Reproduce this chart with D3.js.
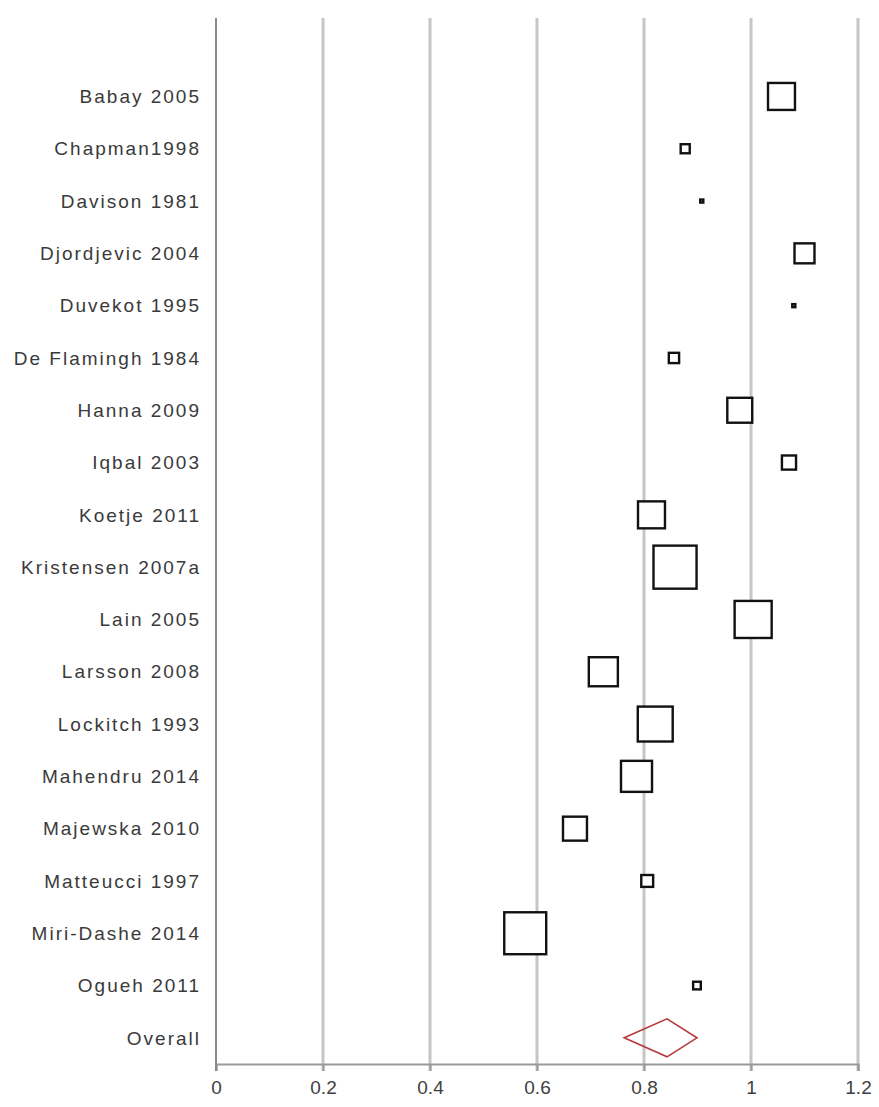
<!DOCTYPE html>
<html>
<head>
<meta charset="utf-8">
<script src="https://cdn.jsdelivr.net/npm/d3@7"></script>
<style>
  html, body { margin: 0; padding: 0; background: #fff; }
  svg { display: block; }
</style>
</head>
<body>
<svg id="chart" width="879" height="1107"></svg>
<script>
// Study names, point estimates and relative weights (%)
const studies = [
  "Babay 2005", "Chapman1998", "Davison 1981", "Djordjevic 2004", "Duvekot 1995",
  "De Flamingh 1984", "Hanna 2009", "Iqbal 2003", "Koetje 2011", "Kristensen 2007a",
  "Lain 2005", "Larsson 2008", "Lockitch 1993", "Mahendru 2014", "Majewska 2010",
  "Matteucci 1997", "Miri-Dashe 2014", "Ogueh 2011"
];
const estimates = [
  1.057, 0.877, 0.908, 1.100, 1.080,
  0.856, 0.979, 1.071, 0.814, 0.858,
  1.004, 0.724, 0.821, 0.786, 0.671,
  0.806, 0.578, 0.899
];
const weights = [
  6.2, 0.7, 0.08, 3.4, 0.08,
  0.9, 5.3, 1.7, 6.2, 15.8,
  11.7, 7.2, 10.4, 8.2, 4.9,
  1.2, 15.0, 0.5
];
// Pooled estimate with its confidence limits
const overallLabel = "Overall";
const overall = { est: 0.843, lo: 0.763, hi: 0.899 };
const xTicks = [0, 0.2, 0.4, 0.6, 0.8, 1, 1.2];

const svg = d3.select("#chart");
const plot = { left: 216, right: 858, top: 18, bottom: 1064 };

const x = d3.scaleLinear().domain([0, 1.2]).range([plot.left, plot.right]);
// One blank row above the first study
const rows = ["", ...studies, overallLabel];
const y = d3.scaleBand().domain(rows).range([plot.top, plot.bottom]);
const yc = d => y(d) + y.bandwidth() / 2;
const side = d3.scaleSqrt().domain([0, 100]).range([0, 108.3]);

const font = "'Liberation Sans', Arial, sans-serif";

// Vertical gridlines
svg.append("g")
  .selectAll("line")
  .data(xTicks.filter(t => t > 0))
  .join("line")
  .attr("x1", d => x(d)).attr("x2", d => x(d))
  .attr("y1", plot.top).attr("y2", plot.bottom + 7)
  .attr("stroke", "#c6c6c6")
  .attr("stroke-width", 3);

// X axis
const xAxis = d3.axisBottom(x)
  .tickValues(xTicks)
  .tickFormat(d => String(d))
  .tickSize(7)
  .tickPadding(10);
const gx = svg.append("g")
  .attr("transform", `translate(0,${plot.bottom})`)
  .call(xAxis);
gx.select(".domain").attr("stroke", "#9a9a9a").attr("stroke-width", 2);
gx.selectAll(".tick line").attr("stroke", "#9a9a9a").attr("stroke-width", 2);
gx.selectAll(".tick text")
  .attr("font-family", font)
  .attr("font-size", 19)
  .attr("fill", "#404040");

// Y axis line
svg.append("line")
  .attr("x1", plot.left).attr("x2", plot.left)
  .attr("y1", plot.top).attr("y2", plot.bottom + 7)
  .attr("stroke", "#8a8a8a")
  .attr("stroke-width", 2);

// Row labels
svg.append("g")
  .selectAll("text")
  .data([...studies, overallLabel])
  .join("text")
  .attr("x", plot.left - 15)
  .attr("y", d => yc(d))
  .attr("dy", "0.35em")
  .attr("text-anchor", "end")
  .attr("font-family", font)
  .attr("font-size", 19)
  .attr("letter-spacing", "2px")
  .attr("fill", "#3a3a3a")
  .text(d => d);

// Study markers, sized by weight
const data = studies.map((s, i) => ({ s, est: estimates[i], w: weights[i] }));
svg.append("g")
  .selectAll("rect")
  .data(data)
  .join("rect")
  .attr("x", d => x(d.est) - side(d.w) / 2)
  .attr("y", d => yc(d.s) - side(d.w) / 2)
  .attr("width", d => side(d.w))
  .attr("height", d => side(d.w))
  .attr("fill", "#fff")
  .attr("stroke", "#111")
  .attr("stroke-width", 2.4);

// Pooled estimate diamond
const oy = yc(overallLabel);
const halfH = 19;
svg.append("path")
  .attr("d", d3.line()([
    [x(overall.lo), oy],
    [x(overall.est), oy - halfH],
    [x(overall.hi), oy],
    [x(overall.est), oy + halfH]
  ]) + "Z")
  .attr("fill", "none")
  .attr("stroke", "#b5393a")
  .attr("stroke-width", 1.6);
</script>
</body>
</html>
